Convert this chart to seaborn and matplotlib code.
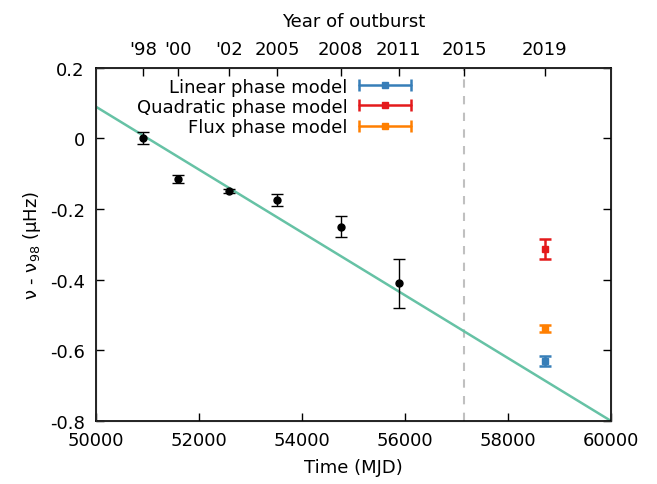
import numpy as np
import matplotlib
matplotlib.use("Agg")
import matplotlib.pyplot as plt
import seaborn as sns
from matplotlib.lines import Line2D
from matplotlib.legend_handler import HandlerLine2D, HandlerTuple

# outburst measurements (MJD, frequency offset, error)
mjd = [50920, 51595, 52580, 53525, 54750, 55880]
dnu = [0.002, -0.115, -0.149, -0.174, -0.250, -0.410]
dnu_err = [0.017, 0.012, 0.006, 0.016, 0.030, 0.070]

# 2019 outburst, three phase models
mjd_2019 = 58710
models = ['Linear phase model', 'Quadratic phase model', 'Flux phase model']
model_nu = [-0.629, -0.313, -0.537]
model_err = [0.014, 0.028, 0.010]
model_colors = ['#377eb8', '#e41a1c', '#ff7f00']

# linear fit line
fit_x = [50000, 60000]
fit_y = [0.09, -0.80]

# top axis: year of outburst
year_mjd = [50920, 51595, 52580, 53525, 54750, 55880, 57150, 58710]
year_labels = ["'98", "'00", "'02", "2005", "2008", "2011", "2015", "2019"]
mjd_2015 = 57150

sns.set_style("white")
plt.rcParams['font.family'] = ['DejaVu Sans']
plt.rcParams['font.size'] = 13
plt.rcParams['text.color'] = 'black'
plt.rcParams['axes.labelcolor'] = 'black'
plt.rcParams['xtick.color'] = 'black'
plt.rcParams['ytick.color'] = 'black'

fig = plt.figure(figsize=(6.57, 4.85), dpi=100)
ax = fig.add_axes([0.146, 0.130, 0.784, 0.728])

ax.axvline(mjd_2015, color='#c0c0c0', linestyle=(0, (4, 4)), linewidth=1.5, zorder=1)
sns.lineplot(x=fit_x, y=fit_y, color='#66c2a5', linewidth=1.8, ax=ax, zorder=2)

ax.errorbar(mjd, dnu, yerr=dnu_err, fmt='o', color='black', markersize=5,
            capsize=4, elinewidth=1, capthick=1, zorder=3)

for lab, v, e, c in zip(models, model_nu, model_err, model_colors):
    ax.errorbar([mjd_2019], [v], yerr=[e], fmt='s', color=c, markersize=4,
                capsize=4, elinewidth=1.8, capthick=1.8, zorder=3)

handles = []
hmap = {}
for lab, c in zip(models, model_colors):
    caps = Line2D([], [], color=c, linewidth=1.8, marker='|', markersize=9, markeredgewidth=1.8)
    sq = Line2D([], [], color=c, linewidth=0, marker='s', markersize=4)
    hmap[caps] = HandlerLine2D(numpoints=2)
    hmap[sq] = HandlerLine2D(numpoints=1)
    handles.append((caps, sq))
hmap[tuple] = HandlerTuple(ndivide=1)

leg = ax.legend(handles, models, loc='upper right', bbox_to_anchor=(0.637, 0.993),
                frameon=False, markerfirst=False, handlelength=3.5, handletextpad=0.35,
                labelspacing=0.12, borderaxespad=0, handler_map=hmap, fontsize=13)

ax.set_xlim(50000, 60000)
ax.set_ylim(-0.8, 0.2)
ax.set_xticks(np.arange(50000, 60001, 2000))
ax.set_yticks(np.arange(-0.8, 0.21, 0.2))
ax.set_yticklabels(['-0.8', '-0.6', '-0.4', '-0.2', '0', '0.2'])
ax.tick_params(axis='x', direction='in', length=6, width=1, pad=7, bottom=True, top=False)
ax.tick_params(axis='y', direction='in', length=6, width=1, pad=8, left=True, right=True)
ax.set_xlabel('Time (MJD)', labelpad=7)
ax.set_ylabel(r'ν - ν$_{98}$ (μHz)', labelpad=5)
for s in ax.spines.values():
    s.set_color('black')
    s.set_linewidth(1.2)

ax2 = ax.twiny()
ax2.set_xlim(50000, 60000)
ax2.set_xticks(year_mjd)
ax2.set_xticklabels(year_labels)
ax2.tick_params(axis='x', direction='in', length=6, width=1, pad=7)
ax2.set_xlabel('Year of outburst', labelpad=10)

fig.savefig('out.png', dpi=100)
